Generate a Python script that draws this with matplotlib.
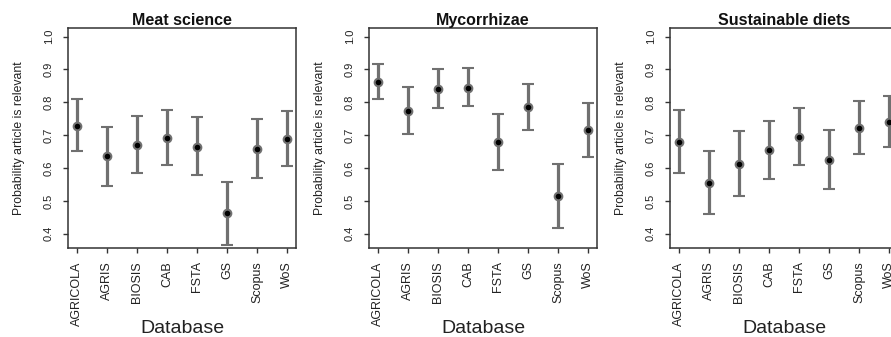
import matplotlib
matplotlib.use("Agg")
import matplotlib.pyplot as plt
import numpy as np

plt.rcParams['font.family'] = ['Liberation Sans', 'DejaVu Sans']

databases = ["AGRICOLA", "AGRIS", "BIOSIS", "CAB", "FSTA", "GS", "Scopus", "WoS"]
titles = ["Meat science", "Mycorrhizae", "Sustainable diets"]

meat_est = [0.729, 0.636, 0.671, 0.692, 0.665, 0.464, 0.659, 0.689]
meat_lo = [0.651, 0.545, 0.585, 0.608, 0.579, 0.367, 0.570, 0.605]
meat_hi = [0.810, 0.726, 0.759, 0.778, 0.754, 0.559, 0.748, 0.774]

myco_est = [0.862, 0.775, 0.842, 0.845, 0.678, 0.787, 0.514, 0.716]
myco_lo = [0.810, 0.705, 0.784, 0.788, 0.593, 0.716, 0.418, 0.634]
myco_hi = [0.916, 0.847, 0.901, 0.903, 0.765, 0.855, 0.611, 0.797]

diet_est = [0.679, 0.555, 0.613, 0.655, 0.696, 0.625, 0.723, 0.739]
diet_lo = [0.584, 0.460, 0.515, 0.567, 0.610, 0.535, 0.643, 0.663]
diet_hi = [0.778, 0.651, 0.712, 0.744, 0.784, 0.717, 0.804, 0.818]

yticks = [0.4, 0.5, 0.6, 0.7, 0.8, 0.9, 1.0]
ytick_labels = ["0.4", "0.5", "0.6", "0.7", "0.8", "0.9", "1.0"]

panels = [(meat_est, meat_lo, meat_hi), (myco_est, myco_lo, myco_hi), (diet_est, diet_lo, diet_hi)]

W, H = 891, 337
fig = plt.figure(figsize=(W / 100, H / 100), dpi=100)

lefts_px = [68, 369, 670]
ax_w_px = 228
ax_top_px, ax_bot_px = 28, 248

spine_col = "#333333"
bar_col = "#707070"
text_col = "#222222"

for i, (est, lo, hi) in enumerate(panels):
    left = lefts_px[i] / W
    bottom = (H - ax_bot_px) / H
    ax = fig.add_axes([left, bottom, ax_w_px / W, (ax_bot_px - ax_top_px) / H])
    x = np.arange(1, len(databases) + 1)
    est_a = np.array(est)
    yerr = np.vstack([est_a - np.array(lo), np.array(hi) - est_a])
    ax.errorbar(x, est_a, yerr=yerr, fmt='o', color=bar_col, ecolor=bar_col,
                elinewidth=2.3, capsize=4, capthick=2.0,
                markersize=5.5, markerfacecolor="black", markeredgecolor=bar_col,
                markeredgewidth=1.5, zorder=3)
    ax.set_xlim(0.7, 8.3)
    ax.set_ylim(0.357, 1.026)
    ax.set_xticks(x)
    ax.set_xticklabels(databases, rotation=90, fontsize=9, color=text_col)
    ax.set_yticks(yticks)
    ax.set_yticklabels(ytick_labels, rotation=90, fontsize=8, color=text_col, va="center")
    ax.tick_params(axis='x', length=3.5, width=1, color=spine_col, pad=6)
    ax.tick_params(axis='y', length=3.5, width=1, color=spine_col, pad=6.5)
    for s in ax.spines.values():
        s.set_color(spine_col)
        s.set_linewidth(1.1)
    ax.set_title(titles[i], fontsize=11.5, fontweight='bold', pad=1.5, color="#111111")
    ax.set_xlabel("Database", fontsize=14, color=text_col)
    ax.xaxis.set_label_coords(0.5, -0.327)
    ax.set_ylabel("Probability article is relevant", fontsize=8.8, color=text_col)
    ax.yaxis.label.set_va('center')
    ax.yaxis.set_label_coords(-49 / ax_w_px, 0.5)

fig.savefig("out.png", dpi=100)
